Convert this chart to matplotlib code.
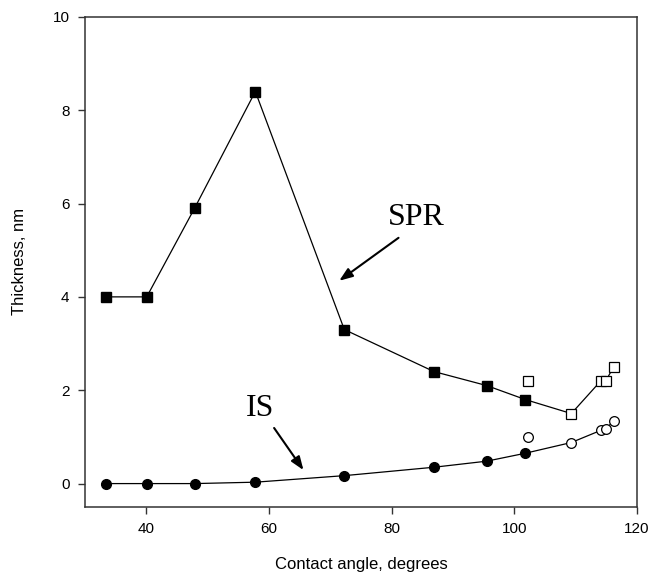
import matplotlib
matplotlib.use("Agg")
import matplotlib.pyplot as plt

# SPR data
spr_filled_x = [33.4, 40.1, 47.9, 57.8, 72.3, 86.9, 95.5, 101.8]
spr_filled_y = [4.0, 4.0, 5.9, 8.4, 3.3, 2.4, 2.1, 1.8]
spr_open_x = [109.3, 114.1, 114.9, 116.2]
spr_open_y = [1.5, 2.2, 2.2, 2.5]
spr_extra_x = [102.2]
spr_extra_y = [2.2]

# IS data
is_filled_x = [33.4, 40.1, 47.9, 57.8, 72.3, 86.9, 95.5, 101.8]
is_filled_y = [0.0, 0.0, 0.0, 0.03, 0.17, 0.35, 0.48, 0.65]
is_open_x = [109.3, 114.1, 114.9, 116.2]
is_open_y = [0.88, 1.14, 1.16, 1.35]
is_extra_x = [102.2]
is_extra_y = [1.0]

xticks = [40, 60, 80, 100, 120]
yticks = [0, 2, 4, 6, 8, 10]

plt.rcParams['font.family'] = ['Liberation Sans', 'DejaVu Sans']

fig = plt.figure(figsize=(6.52, 5.8), dpi=100)
ax = fig.add_axes([0.130, 0.126, 0.847, 0.845])

lw = 0.9
ax.plot(spr_filled_x + spr_open_x, spr_filled_y + spr_open_y, color='black', lw=lw, zorder=2)
ax.plot(spr_filled_x, spr_filled_y, 's', ms=6.5, mfc='black', mec='black', zorder=3)
ax.plot(spr_open_x, spr_open_y, 's', ms=6.5, mfc='white', mec='black', mew=0.9, zorder=3)
ax.plot(spr_extra_x, spr_extra_y, 's', ms=6.5, mfc='white', mec='black', mew=0.9, zorder=3)

ax.plot(is_filled_x + is_open_x, is_filled_y + is_open_y, color='black', lw=lw, zorder=2)
ax.plot(is_filled_x, is_filled_y, 'o', ms=7, mfc='black', mec='black', zorder=3)
ax.plot(is_open_x, is_open_y, 'o', ms=7, mfc='white', mec='black', mew=0.9, zorder=3)
ax.plot(is_extra_x, is_extra_y, 'o', ms=7, mfc='white', mec='black', mew=0.9, zorder=3)

ax.set_xlim(30, 120)
ax.set_ylim(-0.5, 10)
ax.set_xticks(xticks)
ax.set_yticks(yticks)
ax.tick_params(direction='out', length=5, width=1, colors='#333333', labelsize=11, labelcolor='black', pad=6)
for s in ax.spines.values():
    s.set_color('#333333')
    s.set_linewidth(1.1)

ax.set_xlabel('Contact angle, degrees', fontsize=12)
ax.set_ylabel('Thickness, nm', fontsize=12)
ax.xaxis.set_label_coords(0.5, -0.118)
ax.yaxis.set_label_coords(-0.118, 0.5)
ax.xaxis.label.set_va('center')
ax.yaxis.label.set_va('center')

ax.annotate('', xy=(71.1, 4.31), xytext=(81.5, 5.3),
            arrowprops=dict(arrowstyle='-|>,head_length=0.8,head_width=0.3', color='black', lw=1.5))
ax.text(84.0, 5.69, 'SPR', family=['Liberation Serif'], fontsize=23, ha='center', va='center')

ax.annotate('', xy=(65.9, 0.24), xytext=(60.6, 1.24),
            arrowprops=dict(arrowstyle='-|>,head_length=0.8,head_width=0.3', color='black', lw=1.5))
ax.text(58.5, 1.6, 'IS', family=['Liberation Serif'], fontsize=23, ha='center', va='center')

fig.savefig('out.png', dpi=100)
